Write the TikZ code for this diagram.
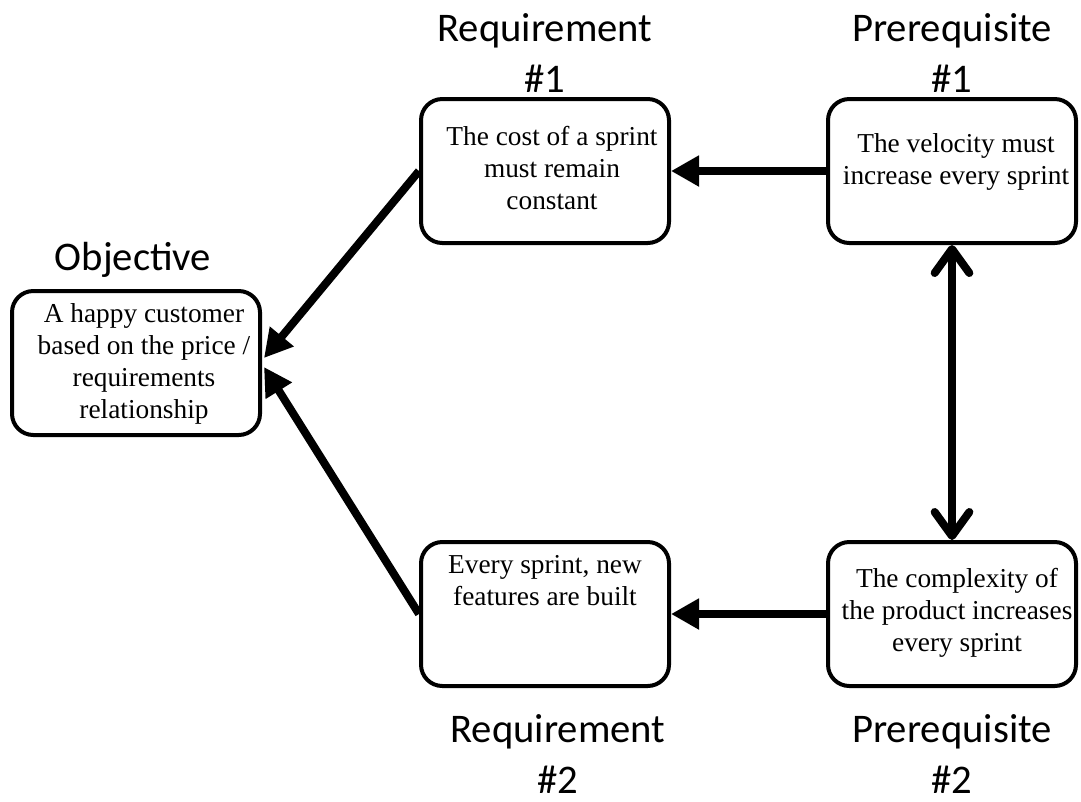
\documentclass[tikz,border=0pt]{standalone}
\usepackage{fontspec}
\setmainfont{Liberation Serif}
\newfontfamily\headfont{Carlito}
\usepackage{tikz}
\usetikzlibrary{arrows.meta, calc}

\begin{document}
\begin{tikzpicture}[x=0.75pt, y=-0.75pt,
    box/.style={draw, line width=3pt, rounded corners=16pt, inner sep=0pt, minimum width=186pt, minimum height=108pt},
    boxtext/.style={anchor=north, inner sep=0pt, align=center, font=\fontsize{20.5}{24}\selectfont},
    heading/.style={anchor=base, inner sep=0pt, align=center, font=\headfont\fontsize{30.5}{38}\selectfont},
    link/.style={line width=6pt, -{Triangle[length=21pt, width=22pt]}},
    twoway/.style={line width=6pt, {Straight Barb[length=18pt, width=26pt, round]}-{Straight Barb[length=18pt, width=26pt, round]}}]
        \useasboundingbox (0,0) rectangle (1081,801);
        % Boxes
        \node[box] (obj) at (136,363) {};
        \node[box] (req1) at (545,171) {};
        \node[box] (pre1) at (952,171) {};
        \node[box] (req2) at (545,614) {};
        \node[box] (pre2) at (952,614) {};
        % Texts in the boxes
        \node[boxtext] (objtext) at ($(obj.north)+(8,14)$) {A happy customer\\based on the price /\\requirements\\relationship};
        \node[boxtext] (req1text) at ($(req1.north)+(7,29)$) {The cost of a sprint\\must remain\\constant};
        \node[boxtext] (pre1text) at ($(pre1.north)+(4,36)$) {The velocity must\\increase every sprint};
        \node[boxtext] (req2text) at ($(req2.north)+(0,15)$) {Every sprint, new\\features are built};
        \node[boxtext] (pre2text) at ($(pre2.north)+(5,28)$) {The complexity of\\the product increases\\every sprint};
        % Headings
        \node[heading] (objhead) at (133,270) {Objective};
        \node[heading] (req1head) at (545,92) {Requirement\\\#1};
        \node[heading] (pre1head) at (952,92) {Prerequisite\\\#1};
        \node[heading] (req2head) at (558,793) {Requirement\\\#2};
        \node[heading] (pre2head) at (952,793) {Prerequisite\\\#2};
        % Arrows
        \coordinate (objin1) at ($(obj.east)+(2,-5)$);
        \coordinate (objin2) at ($(obj.east)+(2,4)$);
        \draw[link] (req1.west) -- (objin1);
        \draw[link] (req2.west) -- (objin2);
        \draw[link] (pre1.west) -- (req1.east);
        \draw[link] (pre2.west) -- (req2.east);
        \draw[twoway] (pre1.south) -- (pre2.north);
    \end{tikzpicture}
\end{document}
